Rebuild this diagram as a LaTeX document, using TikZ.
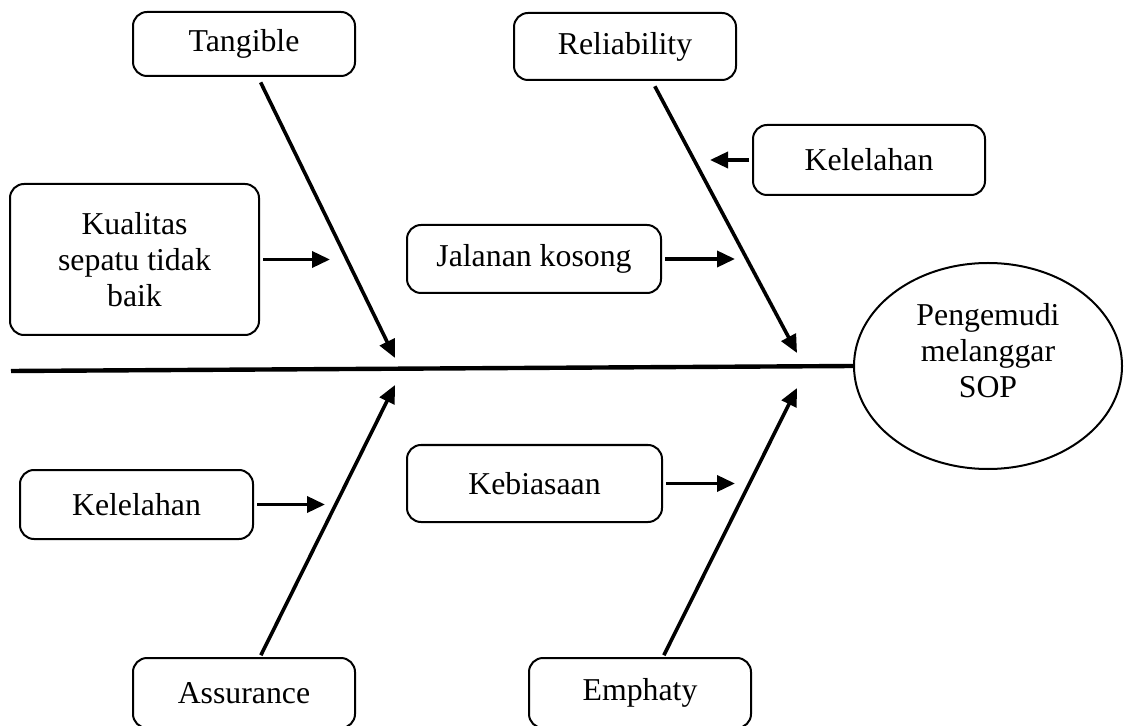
\documentclass[tikz,border=0pt]{standalone}
\usepackage{fontspec}
\setmainfont{Liberation Serif}
\usetikzlibrary{shapes.geometric,arrows.meta}

\begin{document}
\begin{tikzpicture}[x=0.5pt, y=-0.5pt,
    every node/.style={font=\fontsize{15.9pt}{18pt}\selectfont},
    cause/.style={draw, line width=1pt, rounded corners=7pt, align=center, inner sep=0pt},
    bone/.style={line width=1.8pt, -{Triangle[length=9pt,width=8pt]}}]

    \useasboundingbox (0,0) rectangle (1128,726);

    % Draw the effect and the spine
    \node[draw, line width=1pt, ellipse, inner sep=0pt, minimum width=134pt, minimum height=103pt] (effect) at (988,366)
        {\raisebox{6pt}[\height][\depth]{\begin{tabular}{@{}c@{}}Pengemudi\\melanggar\\SOP\end{tabular}}};
    \coordinate (tail) at (11,371);
    \draw[line width=2.2pt] (tail) -- (effect.west);

    % Draw the main causes
    \node[cause, minimum width=111pt, minimum height=32pt] (tangible) at (244,44) {Tangible};
    \node[cause, minimum width=111pt, minimum height=33.5pt] (reliability) at (625,46.5) {Reliability};
    \node[cause, minimum width=111pt, minimum height=35pt] (assurance) at (244,693) {Assurance};
    \node[cause, minimum width=111pt, minimum height=35pt] (emphaty) at (640,693) {Emphaty};

    % Draw the sub causes
    \node[cause, minimum width=124.5pt, minimum height=75.5pt] (kualitas) at (134.5,259.5) {Kualitas\\sepatu tidak\\baik};
    \node[cause, minimum width=127pt, minimum height=34pt] (jalanan) at (534,259) {Jalanan kosong};
    \node[cause, minimum width=116pt, minimum height=35pt] (lelahA) at (869,160) {Kelelahan};
    \node[cause, minimum width=116.5pt, minimum height=34.5pt] (lelahB) at (136.5,504.5) {Kelelahan};
    \node[cause, minimum width=127.5pt, minimum height=38.5pt] (kebiasaan) at (534.5,483.5) {Kebiasaan};

    % Arrow tips on the spine
    \coordinate (tipT) at (395,358);
    \coordinate (tipR) at (797,353);
    \coordinate (tipA) at (395,385);
    \coordinate (tipE) at (797,388);

    % Draw the bones
    \draw[bone, shorten <=3pt] ([xshift=7pt]tangible.south) -- (tipT);
    \draw[bone, shorten <=3pt] ([xshift=13.5pt]reliability.south) -- (tipR);
    \draw[bone, shorten <=1pt] ([xshift=8pt]assurance.north) -- (tipA);
    \draw[bone, shorten <=1pt] ([xshift=11.5pt]emphaty.north) -- (tipE);

    % Arrow tips on the bones
    \coordinate (kualitasTip) at (330,259.5);
    \coordinate (jalananTip) at (735,259);
    \coordinate (lelahATip) at (710,160);
    \coordinate (lelahBTip) at (325,504.5);
    \coordinate (kebiasaanTip) at (735,483.5);

    % Draw the sub arrows
    \draw[bone, shorten <=1.5pt] (kualitas.east) -- (kualitasTip);
    \draw[bone, shorten <=1.5pt] (jalanan.east) -- (jalananTip);
    \draw[bone, shorten <=1.5pt] (lelahA.west) -- (lelahATip);
    \draw[bone, shorten <=1.5pt] (lelahB.east) -- (lelahBTip);
    \draw[bone, shorten <=1.5pt] (kebiasaan.east) -- (kebiasaanTip);
\end{tikzpicture}
\end{document}
